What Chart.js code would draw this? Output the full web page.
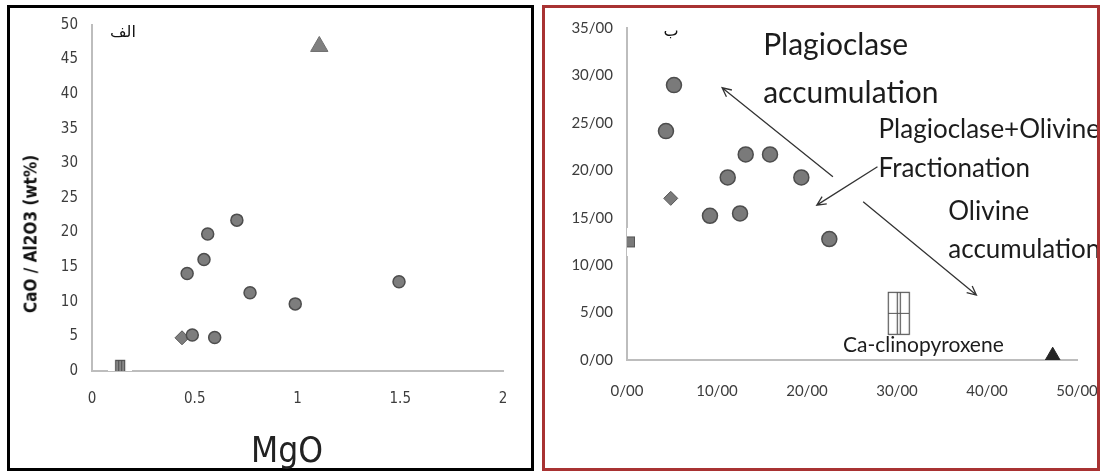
<!DOCTYPE html>
<html>
<head>
<meta charset="utf-8">
<script src="https://cdn.jsdelivr.net/npm/chart.js@4.4.1/dist/chart.umd.min.js"></script>
<style>
  html, body { margin: 0; padding: 0; }
  body { width: 1100px; height: 471px; background: #fff; position: relative; overflow: hidden; }
  .panel { position: absolute; box-sizing: border-box; }
  #panelA { left: 7px; top: 5px; width: 527px; height: 466px; border: 3px solid #000; }
  #panelB { left: 542px; top: 5px; width: 558px; height: 466px; border: 3px solid #a83232; }
  .panel canvas { position: absolute; left: 0; top: 0; }
  .txt { position: absolute; white-space: nowrap; line-height: 1; }
  #tagA, #tagB { font-family: 'DejaVu Sans', sans-serif; font-size: 16px; color: #111; transform: translate(-50%, -50%); }
  #tagA { left: 123px; top: 32px; }
  #tagB { left: 671px; top: 31px; }
  #xTitleA { left: 287px; top: 450px; transform: translate(-50%, -50%);
             font-family: 'Liberation Sans Narrow', 'DejaVu Sans Condensed', sans-serif; font-size: 35px; color: #222; }
  #yTitleA { left: 31px; top: 234px; transform: translate(-50%, -50%) rotate(-90deg);
             font-family: 'Liberation Sans Narrow', 'DejaVu Sans Condensed', sans-serif; font-weight: bold; font-size: 17px; color: #111; }
</style>
</head>
<body>
<div class="panel" id="panelA"><canvas id="chartA" width="521" height="460"></canvas></div>
<div class="panel" id="panelB"><canvas id="chartB" width="552" height="460"></canvas></div>
<div class="txt" id="tagA">الف</div>
<div class="txt" id="tagB">ب</div>
<div class="txt" id="xTitleA">MgO</div>
<div class="txt" id="yTitleA">CaO / Al2O3 (wt%)</div>

<script>
// ---------- Panel A: CaO/Al2O3 against MgO ----------
const circleAX = [0.705, 0.563, 0.545, 0.463, 0.769, 0.989, 1.494, 0.488, 0.597];
const circleAY = [21.8, 19.8, 16.1, 14.1, 11.3, 9.7, 12.9, 5.2, 4.85];
const triangleAX = [1.106];
const triangleAY = [46.9];
const diamondAX = [0.438];
const diamondAY = [4.8];
const squareAX = [0.137];
const squareAY = [0.6];
const xTickValuesA = [0, 0.5, 1, 1.5, 2];
const xTickLabelsA = ['0', '0.5', '1', '1.5', '2'];
const yTickValuesA = [0, 5, 10, 15, 20, 25, 30, 35, 40, 45, 50];
const yTickLabelsA = ['0', '5', '10', '15', '20', '25', '30', '35', '40', '45', '50'];

// ---------- Panel B ----------
const circleBX = [5.22, 4.33, 13.19, 15.89, 11.19, 19.37, 9.22, 12.56, 22.48];
const circleBY = [28.98, 24.13, 21.67, 21.67, 19.25, 19.25, 15.2, 15.45, 12.75];
const diamondBX = [4.86];
const diamondBY = [17.04];
const squareBX = [0.33];
const squareBY = [12.4];
const triangleBX = [47.3];
const triangleBY = [0.4];
const cpxBX = [30.2];
const cpxBY = [4.92];
const xTickValuesB = [0, 10, 20, 30, 40, 50];
const xTickLabelsB = ['0/00', '10/00', '20/00', '30/00', '40/00', '50/00'];
const yTickValuesB = [0, 5, 10, 15, 20, 25, 30, 35];
const yTickLabelsB = ['0/00', '5/00', '10/00', '15/00', '20/00', '25/00', '30/00', '35/00'];

// trend arrows (tail -> head) in data units
const arrowTailX = [22.88, 27.83, 26.24];
const arrowTailY = [19.32, 20.37, 16.68];
const arrowHeadX = [10.57, 21.09, 38.82];
const arrowHeadY = [28.7, 16.33, 6.85];

// process labels, anchored at their left edge / vertical middle
const noteTexts = ['Plagioclase', 'accumulation', 'Plagioclase+Olivine', 'Fractionation', 'Olivine', 'accumulation', 'Ca-clinopyroxene'];
const noteX = [15.13, 15.13, 27.95, 27.95, 35.7, 35.7, 24.0];
const noteY = [33.2, 28.1, 24.24, 20.2, 15.63, 11.6, 1.6];

const pairs = (xs, ys) => xs.map((x, i) => ({ x, y: ys[i] }));

// ---- custom marker images ----
function makeSquareA() {
  const c = document.createElement('canvas');
  c.width = 24; c.height = 16;
  const g = c.getContext('2d');
  g.fillStyle = '#fff'; g.fillRect(0, 0, 24, 16);
  g.fillStyle = '#8c8c8c'; g.fillRect(7, 1, 10, 14);
  g.strokeStyle = '#4f4f4f'; g.lineWidth = 1.2;
  g.strokeRect(7.5, 1.5, 9, 13);
  g.beginPath(); g.moveTo(10.5, 2); g.lineTo(10.5, 14); g.moveTo(13.5, 2); g.lineTo(13.5, 14); g.stroke();
  return c;
}
function makeSquareB() {
  const c = document.createElement('canvas');
  c.width = 14; c.height = 28;
  const g = c.getContext('2d');
  g.fillStyle = '#fff'; g.fillRect(0, 0, 14, 28);
  g.fillStyle = '#7a7a7a'; g.fillRect(2, 8, 10, 11);
  g.strokeStyle = '#555'; g.lineWidth = 1;
  g.strokeRect(2.5, 8.5, 9, 10);
  return c;
}
function makeCpx() {
  const c = document.createElement('canvas');
  c.width = 24; c.height = 45;
  const g = c.getContext('2d');
  g.strokeStyle = '#555'; g.lineWidth = 1.2;
  g.strokeRect(1.5, 1.5, 21, 42);
  g.beginPath();
  g.moveTo(10.5, 2); g.lineTo(10.5, 43);
  g.moveTo(13.5, 2); g.lineTo(13.5, 43);
  g.moveTo(2, 22.5); g.lineTo(22, 22.5);
  g.stroke();
  return c;
}

const axisColor = '#bdbdbd';
const tickColor = '#3c3c3c';
const narrowFont = "'Liberation Sans Narrow', 'DejaVu Sans Condensed', sans-serif";

function fixedScale(values, labels, fitSize, isX, font, pad) {
  return {
    type: 'linear',
    min: values[0],
    max: values[values.length - 1],
    grid: { display: false, drawTicks: false },
    border: { display: true, color: axisColor, width: 2 },
    afterBuildTicks: (s) => { s.ticks = values.map(v => ({ value: v })); },
    afterFit: (s) => {
      if (isX) s.height = fitSize; else s.width = fitSize;
      s.paddingLeft = 0; s.paddingRight = 0; s.paddingTop = 0; s.paddingBottom = 0;
    },
    ticks: {
      autoSkip: false,
      maxRotation: 0,
      padding: pad,
      color: tickColor,
      font: font,
      callback: (v) => { const i = values.indexOf(v); return i >= 0 ? labels[i] : ''; }
    }
  };
}

const baseOptions = {
  responsive: false,
  animation: false,
  events: [],
  plugins: { legend: { display: false }, tooltip: { enabled: false } }
};

// Panel A chart
new Chart(document.getElementById('chartA'), {
  type: 'scatter',
  data: {
    datasets: [
      { data: pairs(circleAX, circleAY), pointStyle: 'circle', pointRadius: 6,
        backgroundColor: '#7d7d7d', borderColor: '#4d4d4d', borderWidth: 1.5 },
      { data: pairs(triangleAX, triangleAY), pointStyle: 'triangle', pointRadius: 10,
        backgroundColor: '#808080', borderColor: '#6e6e6e', borderWidth: 1 },
      { data: pairs(diamondAX, diamondAY), pointStyle: 'rectRot', pointRadius: 7,
        backgroundColor: '#7d7d7d', borderColor: '#555', borderWidth: 1 },
      { data: pairs(squareAX, squareAY), pointStyle: makeSquareA(), pointRadius: 8 }
    ]
  },
  options: Object.assign({}, baseOptions, {
    layout: { padding: { left: 0, top: 17, right: 28, bottom: 0 } },
    scales: {
      x: fixedScale(xTickValuesA, xTickLabelsA, 97, true, { family: narrowFont, size: 15 }, 19),
      y: fixedScale(yTickValuesA, yTickLabelsA, 82, false, { family: narrowFont, size: 15 }, 14)
    }
  })
});

// arrows and process labels for panel B
const processNotes = {
  id: 'processNotes',
  afterDatasetsDraw(chart) {
    const { ctx, scales: { x, y } } = chart;
    ctx.save();
    ctx.strokeStyle = '#333';
    ctx.lineWidth = 1.3;
    arrowTailX.forEach((_, i) => {
      const x0 = x.getPixelForValue(arrowTailX[i]), y0 = y.getPixelForValue(arrowTailY[i]);
      const x1 = x.getPixelForValue(arrowHeadX[i]), y1 = y.getPixelForValue(arrowHeadY[i]);
      const a = Math.atan2(y1 - y0, x1 - x0), L = 10, w = 0.45;
      ctx.beginPath();
      ctx.moveTo(x0, y0); ctx.lineTo(x1, y1);
      ctx.moveTo(x1 - L * Math.cos(a - w), y1 - L * Math.sin(a - w));
      ctx.lineTo(x1, y1);
      ctx.lineTo(x1 - L * Math.cos(a + w), y1 - L * Math.sin(a + w));
      ctx.stroke();
    });
    const sizes = [30, 30, 26, 26, 26, 26, 21];
    ctx.fillStyle = '#1c1c1c';
    ctx.textAlign = 'left';
    ctx.textBaseline = 'middle';
    noteTexts.forEach((t, i) => {
      ctx.font = sizes[i] + 'px Lato, sans-serif';
      ctx.fillText(t, x.getPixelForValue(noteX[i]), y.getPixelForValue(noteY[i]));
    });
    ctx.restore();
  }
};

// Panel B chart
new Chart(document.getElementById('chartB'), {
  type: 'scatter',
  data: {
    datasets: [
      { data: pairs(circleBX, circleBY), pointStyle: 'circle', pointRadius: 7.5,
        backgroundColor: '#7a7a7a', borderColor: '#4d4d4d', borderWidth: 1.5 },
      { data: pairs(diamondBX, diamondBY), pointStyle: 'rectRot', pointRadius: 7,
        backgroundColor: '#7a7a7a', borderColor: '#555', borderWidth: 1 },
      { data: pairs(squareBX, squareBY), pointStyle: makeSquareB(), pointRadius: 8 },
      { data: pairs(triangleBX, triangleBY), pointStyle: 'triangle', pointRadius: 9,
        backgroundColor: '#262626', borderColor: '#262626', borderWidth: 1 },
      { data: pairs(cpxBX, cpxBY), pointStyle: makeCpx(), pointRadius: 10 }
    ]
  },
  options: Object.assign({}, baseOptions, {
    layout: { padding: { left: 0, top: 20, right: 20, bottom: 0 } },
    scales: {
      x: fixedScale(xTickValuesB, xTickLabelsB, 108, true, { family: 'Lato, sans-serif', size: 15 }, 22),
      y: fixedScale(yTickValuesB, yTickLabelsB, 82, false, { family: 'Lato, sans-serif', size: 15 }, 14)
    }
  }),
  plugins: [processNotes]
});
</script>
</body>
</html>
